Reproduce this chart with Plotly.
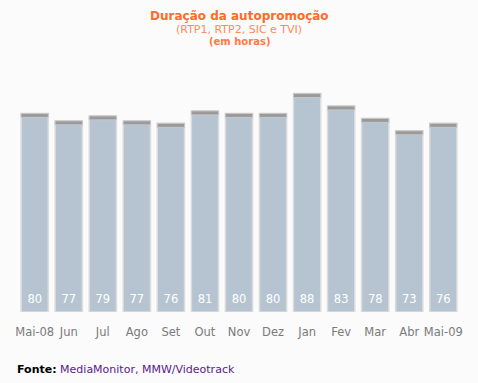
import plotly.graph_objects as go

months = ["Mai-08", "Jun", "Jul", "Ago", "Set", "Out", "Nov", "Dez", "Jan", "Fev", "Mar", "Abr", "Mai-09"]
hours = [80, 77, 79, 77, 76, 81, 80, 80, 88, 83, 78, 73, 76]
cap = 1.6

FONT = "DejaVu Sans, Verdana, sans-serif"
W, H = 478, 383
ML, MR, MT, MB = 12, 12, 70, 71

fig = go.Figure()
fig.add_trace(go.Bar(
    x=months, y=hours,
    marker=dict(color="#b6c4d2", line=dict(color="#dcdcdc", width=1.5)),
    textposition="none",
    hoverinfo="skip", showlegend=False,
))
fig.add_trace(go.Bar(
    x=months, y=[cap] * len(hours), base=[v - cap for v in hours],
    marker=dict(color="#9a9a9a", line=dict(color="#c8c8c8", width=1)),
    hoverinfo="skip", showlegend=False,
))
fig.add_trace(go.Scatter(
    x=months, y=[4.6] * len(hours), mode="text",
    text=[str(v) for v in hours],
    textfont=dict(color="white", size=11.5, family=FONT),
    hoverinfo="skip", showlegend=False,
))

ph = H - MT - MB
pw = W - ML - MR


def px_x(x):
    return (x - ML) / pw


def px_y(y):
    return (H - MB - y) / ph


fig.update_layout(
    width=W, height=H,
    margin=dict(l=ML, r=MR, t=MT, b=MB),
    paper_bgcolor="#fbfbfb", plot_bgcolor="#fbfbfb",
    barmode="overlay", bargap=0.2,
    font=dict(family=FONT, size=11, color="#777777"),
    xaxis=dict(showgrid=False, zeroline=False, showline=False, ticks="",
               tickfont=dict(size=11.5, color="#7a7a7a"), ticklabelstandoff=11),
    yaxis=dict(range=[0, 97.5], visible=False, showgrid=False, zeroline=False),
    annotations=[
        dict(text="<b>Duração da autopromoção</b>", x=px_x(239), y=px_y(16), xref="paper", yref="paper",
             yanchor="middle", showarrow=False, font=dict(size=12, color="#ff6a2a", family=FONT)),
        dict(text="(RTP1, RTP2, SIC e TVI)", x=px_x(239), y=px_y(29), xref="paper", yref="paper",
             yanchor="middle", showarrow=False, font=dict(size=11, color="#ff8a5a", family=FONT)),
        dict(text="<b>(em horas)</b>", x=px_x(239), y=px_y(41), xref="paper", yref="paper",
             yanchor="middle", showarrow=False, font=dict(size=10, color="#ff7a40", family=FONT)),
        dict(text="<b>Fonte:</b> <span style='color:#5a1a8a'>MediaMonitor, MMW/Videotrack</span>",
             x=px_x(15), y=px_y(369), xref="paper", yref="paper", xanchor="left", yanchor="middle",
             showarrow=False, font=dict(size=11, color="#000000", family=FONT)),
    ],
)

fig.write_html("out.html", config={"displayModeBar": False},
               post_script="document.body.style.margin='0';document.body.style.background='#fbfbfb';")
